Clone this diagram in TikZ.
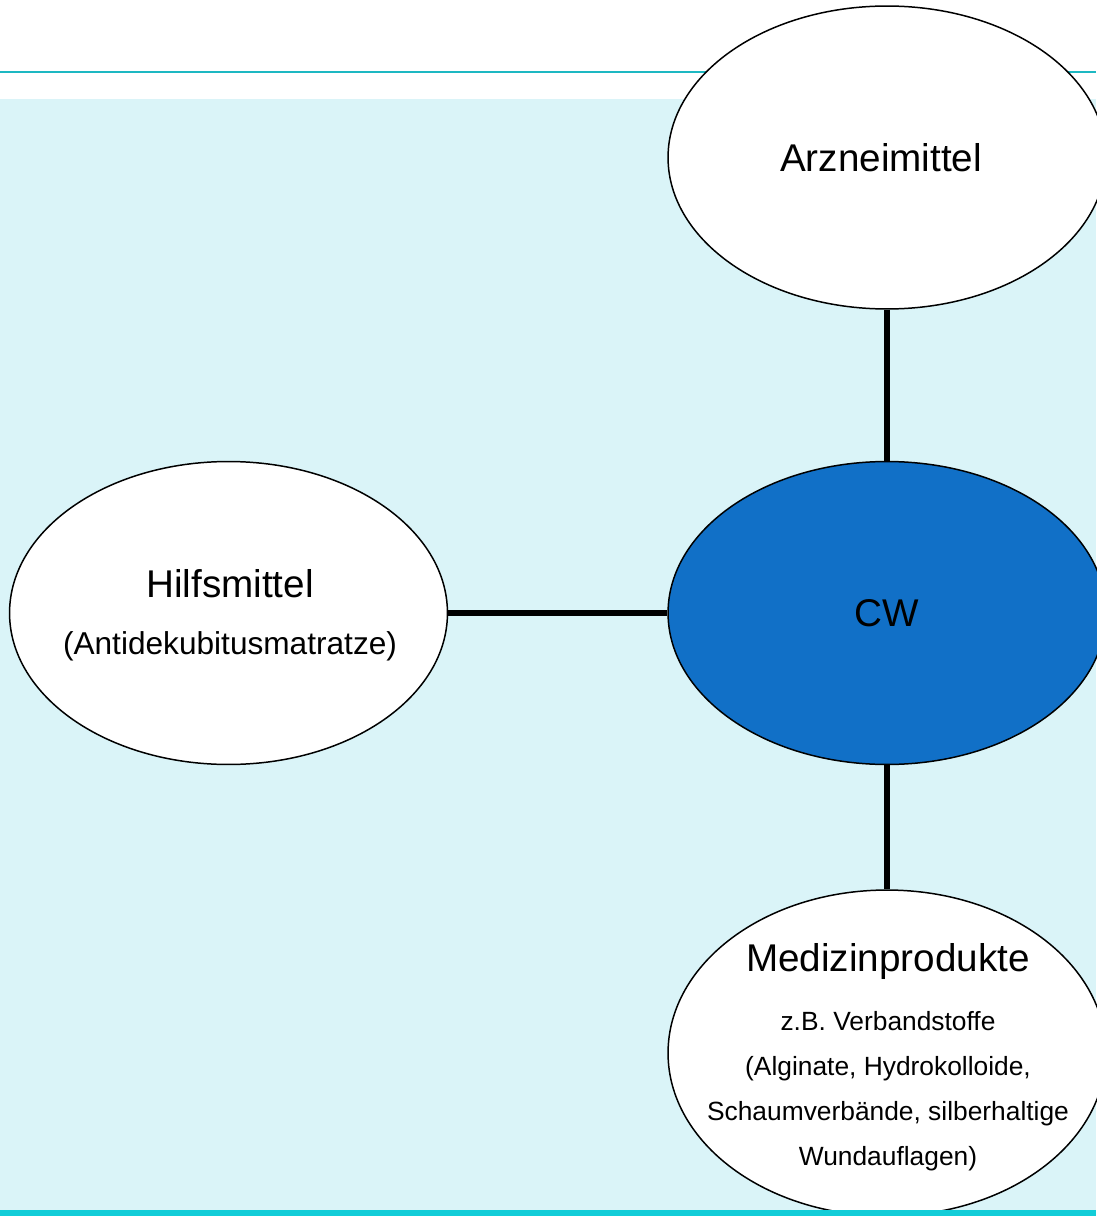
\documentclass[tikz,border=0pt]{standalone}
\usepackage{fontspec}
\setmainfont{Liberation Sans}
\usepackage{tikz}
\usetikzlibrary{shapes.geometric}
\definecolor{bgcyan}{HTML}{DAF4F8}
\definecolor{rulecyan}{HTML}{1DB8C2}
\definecolor{barcyan}{HTML}{12CDD8}
\definecolor{cwblue}{HTML}{1170C7}
\newcommand{\smtxt}{\fontsize{15}{25.5}\selectfont}
\tikzset{
  bub/.style ={draw, ellipse, fill=white, line width=0.85pt, inner sep=0pt,
               minimum width=8.76cm, minimum height=6.06cm,
               font=\fontsize{22}{26}\selectfont},
  hub/.style ={bub, fill=cwblue},
  conn/.style={line width=3pt},
  txt/.style ={align=center, inner sep=0pt}
}
\begin{document}
\begin{tikzpicture}[x=0.02cm, y=-0.02cm]
\useasboundingbox (0,0) rectangle (1096,1216);
% background
\fill[bgcyan] (0,99) rectangle (1096,1211);
\draw[rulecyan, line width=1.6pt] (0,72) -- (1096,72);
% bubbles
\node[bub] (arz) at (887,157.5) {};
\node[hub] (cw) at (887,613) {CW};
\node[bub] (hilf) at (228.5,613) {};
\node[bub, minimum height=6.52cm] (med) at (887,1053) {};
\node[txt, font=\fontsize{22}{26}\selectfont] (arztxt) at (881,158) {Arzneimittel};
\node[txt, font=\fontsize{22}{32.4}\selectfont] (hilftxt) at (230,615)
  {Hilfsmittel\\{\fontsize{18}{32.4}\selectfont (Antidekubitusmatratze)}};
\node[txt, font=\fontsize{22}{25.5}\selectfont] (medtxt) at (888,1057)
  {Medizinprodukte\\[8.5pt]
   {\smtxt z.B. Verbandstoffe}\\
   {\smtxt (Alginate, Hydrokolloide,}\\
   {\smtxt Schaumverbände, silberhaltige}\\
   {\smtxt Wundauflagen)}};
% connectors
\draw[conn] (arz) -- (cw);
\draw[conn] (hilf) -- (cw);
\draw[conn] (cw) -- (med);
% bottom bar
\fill[barcyan] (0,1210) rectangle (1096,1216);
\end{tikzpicture}
\end{document}
